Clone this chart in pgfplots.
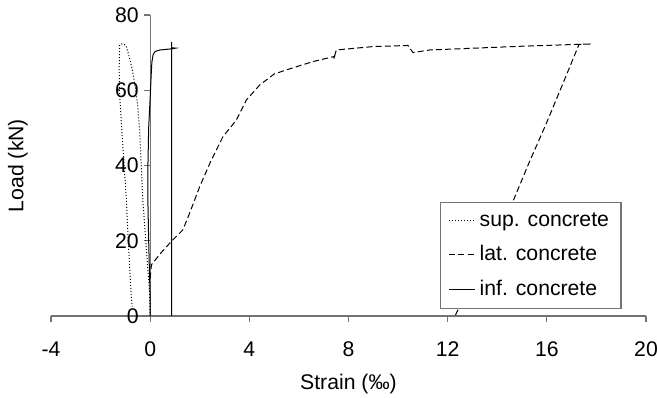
\documentclass[border=0pt]{standalone}
\usepackage{fontspec}
\setmainfont{Liberation Sans}
\usepackage{pgfplots}
\pgfplotsset{compat=1.18}
\begin{document}
\fontsize{10.6}{12.7}\selectfont
\begin{tikzpicture}
\begin{axis}[
  scale only axis, width=297.5pt, height=150.5pt,
  xmin=-4, xmax=20, ymin=0, ymax=80,
  axis x line=bottom, axis y line=middle,
  axis line style={-, draw=black!55, line width=0.6pt},
  xtick={-4,0,4,8,12,16,20}, ytick={0,20,40,60,80},
  tick align=outside, major tick length=3pt,
  tick style={draw=black!55, line width=0.6pt},
  hide obscured x ticks=false, hide obscured y ticks=false,
  /pgf/number format/assume math mode=true,
  ticklabel style={font=\fontsize{10.6}{12.7}\selectfont},
  xticklabel style={yshift=-6pt},
  yticklabel style={xshift=1pt},
  xlabel={Strain (‰)}, ylabel={Load (kN)},
  label style={font=\fontsize{10.6}{12.7}\selectfont},
  xlabel style={at={(axis description cs:0.5,0)}, anchor=center, yshift=-34pt},
  ylabel style={at={(axis description cs:0,0.5)}, anchor=center, rotate=90, yshift=16.5pt},
  legend style={at={(rel axis cs:0.654,0.379)}, anchor=north west, draw=black!55, line width=0.6pt,
    font=\fontsize{10.6}{12.7}\selectfont, row sep=4pt, inner xsep=4pt, inner ysep=3pt},
  legend cell align=left,
  legend image code/.code={\draw[#1, line width=0.5pt] (0pt,0pt) -- (13pt,0pt);},
  clip=false,
]
\addplot[black, line width=0.5pt, dash pattern=on 0.5pt off 1pt] coordinates {
(0,0) (-0.02,5) (-0.05,9) (-0.09,12) (-0.15,17.6) (-0.22,24) (-0.29,30) (-0.36,40)
(-0.42,48.7) (-0.49,55) (-0.56,59) (-0.63,62) (-0.72,65.5) (-0.83,68.5) (-0.96,71.6)
(-1.05,72.2) (-1.15,72.3) (-1.23,72) (-1.25,66) (-1.24,60) (-1.15,50) (-1.05,40)
(-0.96,31) (-0.9,22) (-0.82,12) (-0.76,5) (-0.73,2.5)
};
\addlegendentry{sup. concrete}
\addplot[black, line width=0.5pt, dash pattern=on 3pt off 1.6pt] coordinates {
(0,10) (0.05,13.6) (0.4,16.5) (0.85,19.8) (1.32,22.9) (1.59,27.3) (2.0,34.4) (2.47,41.5)
(2.94,47.7) (3.48,52.1) (3.88,57.4) (4.42,61.4) (5.0,64.3) (5.49,65.4) (6.56,67.6)
(7.44,69.0) (7.40,68.3) (7.51,70.7) (8.98,71.6) (10.4,71.9) (10.6,70.0) (11.27,70.7)
(13.15,71.2) (15.0,71.7) (17.3,72.2) (17.8,72.3) (17.3,72.2) (16.6,61) (15.98,51.2)
(15.3,41) (14.63,30.4) (13.9,20) (13.2,10.5) (12.41,1.6) (12.3,0)
};
\addlegendentry{lat. concrete}
\addplot[black, line width=0.5pt] coordinates {
(0,0) (0.0,5) (-0.03,12) (-0.06,20) (-0.09,30) (-0.09,40) (-0.06,50) (0.0,58)
(0.04,64) (0.07,67.5) (0.12,69.5) (0.2,70.3) (0.4,70.7) (0.7,70.9) (0.87,71.0)
(1.03,71.2) (0.87,71.3) (0.87,72.8) (0.87,0)
};
\addlegendentry{inf. concrete}
\end{axis}
\pgfresetboundingbox
\useasboundingbox ([shift={(-25.5pt,-41pt)}]current axis.south west) rectangle ([shift={(5.5pt,7.5pt)}]current axis.north east);
\end{tikzpicture}
\end{document}
